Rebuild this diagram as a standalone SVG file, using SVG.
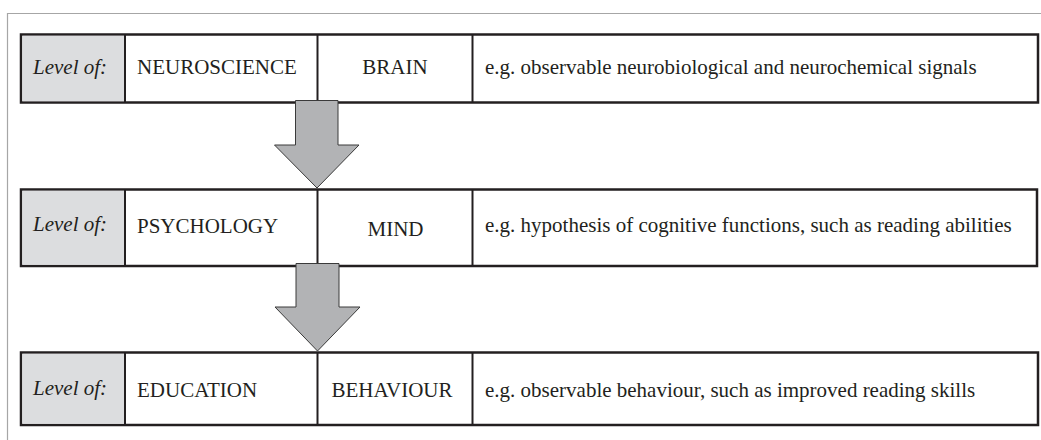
<svg xmlns="http://www.w3.org/2000/svg" width="1041" height="440" viewBox="0 0 1041 440">
<style>
.t{font-family:"Liberation Serif","Times New Roman",serif;font-size:21px;fill:#231f20}
.i{font-style:italic}
.c{text-anchor:middle}
.box{fill:#ffffff;stroke:#231f20;stroke-width:2.5}
.lab{fill:#dcdddf;stroke:none}
.div{stroke:#231f20;stroke-width:2}
.arr{fill:#b2b3b5;stroke:#3a3a3a;stroke-width:1}
</style>
<rect width="1041" height="440" fill="#ffffff"/>
<path d="M7.5,440 V13.5 H1041" fill="none" stroke="#a6a6a6" stroke-width="1.2"/>
<g id="row-neuroscience">
<rect class="box" x="21" y="34.5" width="1017" height="68"/>
<rect class="lab" x="22.3" y="35.8" width="102.7" height="65.4"/>
<line class="div" x1="125" y1="34.5" x2="125" y2="102.5"/>
<line class="div" x1="317.5" y1="34.5" x2="317.5" y2="102.5"/>
<line class="div" x1="472.5" y1="34.5" x2="472.5" y2="102.5"/>
<text class="t i" x="33" y="74">Level of:</text>
<text class="t" x="137" y="74">NEUROSCIENCE</text>
<text class="t c" x="395" y="74">BRAIN</text>
<text class="t" x="485" y="74">e.g. observable neurobiological and neurochemical signals</text>
</g>
<g id="row-psychology">
<rect class="box" x="21" y="189.5" width="1016" height="76.5"/>
<rect class="lab" x="22.3" y="190.8" width="102.7" height="73.9"/>
<line class="div" x1="125" y1="189.5" x2="125" y2="266"/>
<line class="div" x1="317.5" y1="189.5" x2="317.5" y2="266"/>
<line class="div" x1="472.5" y1="189.5" x2="472.5" y2="266"/>
<text class="t i" x="33" y="231">Level of:</text>
<text class="t" x="137" y="233">PSYCHOLOGY</text>
<text class="t c" x="395.5" y="236">MIND</text>
<text class="t" x="485" y="232">e.g. hypothesis of cognitive functions, such as reading abilities</text>
</g>
<g id="row-education">
<rect class="box" x="21" y="352.5" width="1017" height="72.5"/>
<rect class="lab" x="22.3" y="353.8" width="102.7" height="69.9"/>
<line class="div" x1="125" y1="352.5" x2="125" y2="425"/>
<line class="div" x1="317.5" y1="352.5" x2="317.5" y2="425"/>
<line class="div" x1="472.5" y1="352.5" x2="472.5" y2="425"/>
<text class="t i" x="33" y="395">Level of:</text>
<text class="t" x="137" y="397">EDUCATION</text>
<text class="t c" x="392" y="397">BEHAVIOUR</text>
<text class="t" x="485" y="397">e.g. observable behaviour, such as improved reading skills</text>
</g>
<g id="connectors">
<polygon class="arr" points="295.5,100.5 338,100.5 338,145 359,145 317,188 274.5,145 295.5,145"/>
<polygon class="arr" points="296,263.5 339,263.5 339,307 360,307 317.5,351 275,307 296,307"/>
</g>
</svg>
